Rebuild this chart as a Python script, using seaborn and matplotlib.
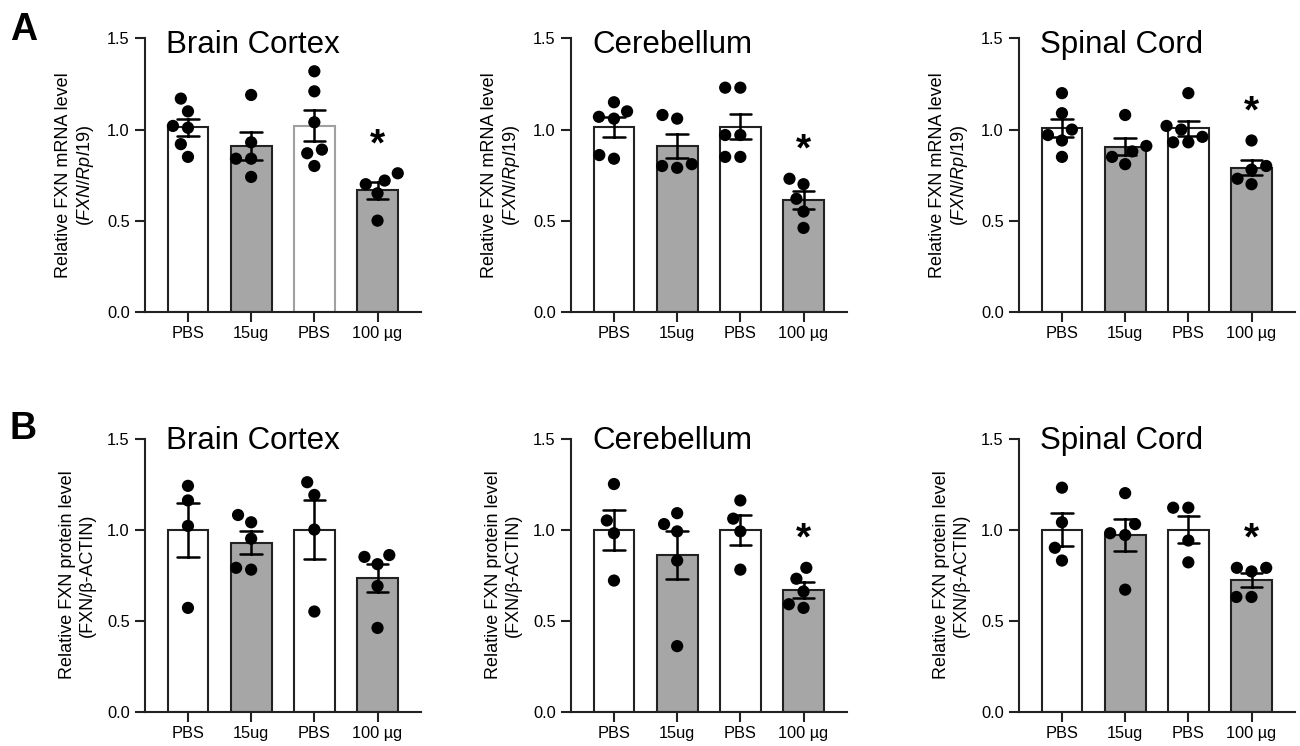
import numpy as np
import pandas as pd
import matplotlib
matplotlib.use("Agg")
import matplotlib.pyplot as plt
import seaborn as sns

# ---------------- data ----------------
tissues = ["Brain Cortex", "Cerebellum", "Spinal Cord"]
group_keys = ["PBS_1", "15ug", "PBS_2", "100ug"]
tick_labels = ["PBS", "15ug", "PBS", "100 µg"]

mrna_cortex = [[1.17, 1.10, 1.01, 1.02, 0.92, 0.85],
               [1.19, 0.93, 0.84, 0.84, 0.74],
               [1.32, 1.21, 1.04, 0.89, 0.87, 0.80],
               [0.76, 0.72, 0.70, 0.65, 0.50]]
mrna_cerebellum = [[1.15, 1.10, 1.07, 1.06, 0.86, 0.84],
                   [1.08, 1.06, 0.81, 0.79, 0.80],
                   [1.23, 1.23, 0.97, 0.97, 0.85, 0.85],
                   [0.73, 0.70, 0.62, 0.55, 0.46]]
mrna_spinal = [[1.20, 1.09, 1.00, 0.97, 0.94, 0.85],
               [1.08, 0.91, 0.88, 0.85, 0.81],
               [1.20, 1.02, 1.00, 0.96, 0.93, 0.93],
               [0.94, 0.78, 0.80, 0.73, 0.70]]
protein_cortex = [[1.24, 1.16, 1.02, 0.57],
                  [1.08, 1.04, 0.95, 0.78, 0.79],
                  [1.26, 1.19, 1.00, 0.55],
                  [0.86, 0.85, 0.81, 0.69, 0.46]]
protein_cerebellum = [[1.25, 1.05, 0.98, 0.72],
                      [1.09, 1.03, 0.99, 0.83, 0.36],
                      [1.16, 1.06, 0.99, 0.78],
                      [0.79, 0.73, 0.66, 0.57, 0.59]]
protein_spinal = [[1.23, 1.04, 0.90, 0.83],
                  [1.20, 1.03, 0.98, 0.97, 0.67],
                  [1.12, 1.12, 0.94, 0.82],
                  [0.79, 0.79, 0.77, 0.63, 0.63]]

mrna_sig = [True, True, True]
protein_sig = [False, True, True]

mrna_ylabel = "Relative FXN mRNA level\n($\\mathit{FXN/Rpl19}$)"
protein_ylabel = "Relative FXN protein level\n(FXN/β-ACTIN)"
yticks = [0.0, 0.5, 1.0, 1.5]

# ---------------- style ----------------
sns.set_theme(style="ticks")
plt.rcParams["font.family"] = ["Liberation Sans", "DejaVu Sans"]
plt.rcParams["mathtext.fontset"] = "custom"
plt.rcParams["mathtext.rm"] = "Liberation Sans"
plt.rcParams["mathtext.it"] = "Liberation Sans:italic"
plt.rcParams["axes.linewidth"] = 1.5
plt.rcParams["text.color"] = "black"
plt.rcParams["axes.labelcolor"] = "black"
plt.rcParams["xtick.labelcolor"] = "black"
plt.rcParams["ytick.labelcolor"] = "black"

palette = {"PBS_1": "white", "15ug": "#a6a6a6", "PBS_2": "white", "100ug": "#a6a6a6"}

fig = plt.figure(figsize=(13, 7.46), dpi=100)

col_left = [145 / 1300, 571 / 1300, 1019 / 1300]
ax_w = 275.5 / 1300
row_bottom = [1 - 311.7 / 746, 1 - 711.7 / 746]
ax_h = 273.2 / 746
title_y = [0.947, 0.960]


def draw(ax, values, title, ylabel, sig, ty):
    df = pd.DataFrame({
        "group": [g for g, v in zip(group_keys, values) for _ in v],
        "value": [x for v in values for x in v],
    })
    sns.barplot(data=df, x="group", y="value", hue="group", order=group_keys,
                hue_order=group_keys, palette=palette, legend=False,
                errorbar="se", capsize=0.34, width=0.644,
                edgecolor="#222222", linewidth=1.5,
                err_kws={"color": "black", "linewidth": 1.8}, ax=ax)
    # transparent edge widens the swarm spacing without enlarging the dots
    sns.swarmplot(data=df, x="group", y="value", order=group_keys,
                  color="black", size=8.8, linewidth=1.6, edgecolor="none",
                  ax=ax, zorder=4)
    ax.set_xlim(-0.68, 3.68)
    ax.set_ylim(0, 1.5)
    ax.set_yticks(yticks)
    ax.set_yticklabels([f"{t:.1f}" for t in yticks])
    ax.set_xticks(range(len(group_keys)))
    ax.set_xticklabels(tick_labels)
    ax.set_xlabel("")
    ax.set_ylabel(ylabel, fontsize=13, labelpad=8, linespacing=1.2)
    ax.tick_params(axis="y", labelsize=11.8, length=7.5, width=1.5, pad=3.4,
                   color="#222222", labelcolor="black")
    ax.tick_params(axis="x", labelsize=11.8, length=7.2, width=1.5, pad=3,
                   color="#222222", labelcolor="black")
    for s in ["left", "bottom"]:
        ax.spines[s].set_color("#222222")
    sns.despine(ax=ax)
    ax.text(0.077, ty, title, transform=ax.transAxes, ha="left", va="baseline",
            fontsize=22.5, color="black")
    if sig:
        ax.text(3, max(values[3]) + 0.10, "*", ha="center", va="baseline",
                fontsize=28, fontweight="bold", color="black")


datasets = [
    [mrna_cortex, mrna_cerebellum, mrna_spinal],
    [protein_cortex, protein_cerebellum, protein_spinal],
]
sigs = [mrna_sig, protein_sig]
ylabels = [mrna_ylabel, protein_ylabel]

axes = []
for r in range(2):
    for c in range(3):
        ax = fig.add_axes([col_left[c], row_bottom[r], ax_w, ax_h])
        draw(ax, datasets[r][c], tissues[c], ylabels[r], sigs[r][c], title_y[r])
        axes.append(ax)

# lighter outline on the second PBS bar of the first panel
axes[0].patches[2].set_edgecolor("#a0a0a0")

fig.text(10 / 1300, 1 - 40 / 746, "A", fontsize=27, fontweight="bold", va="baseline")
fig.text(10 / 1300, 1 - 439 / 746, "B", fontsize=27, fontweight="bold", va="baseline")

fig.savefig("out.png", dpi=100)
